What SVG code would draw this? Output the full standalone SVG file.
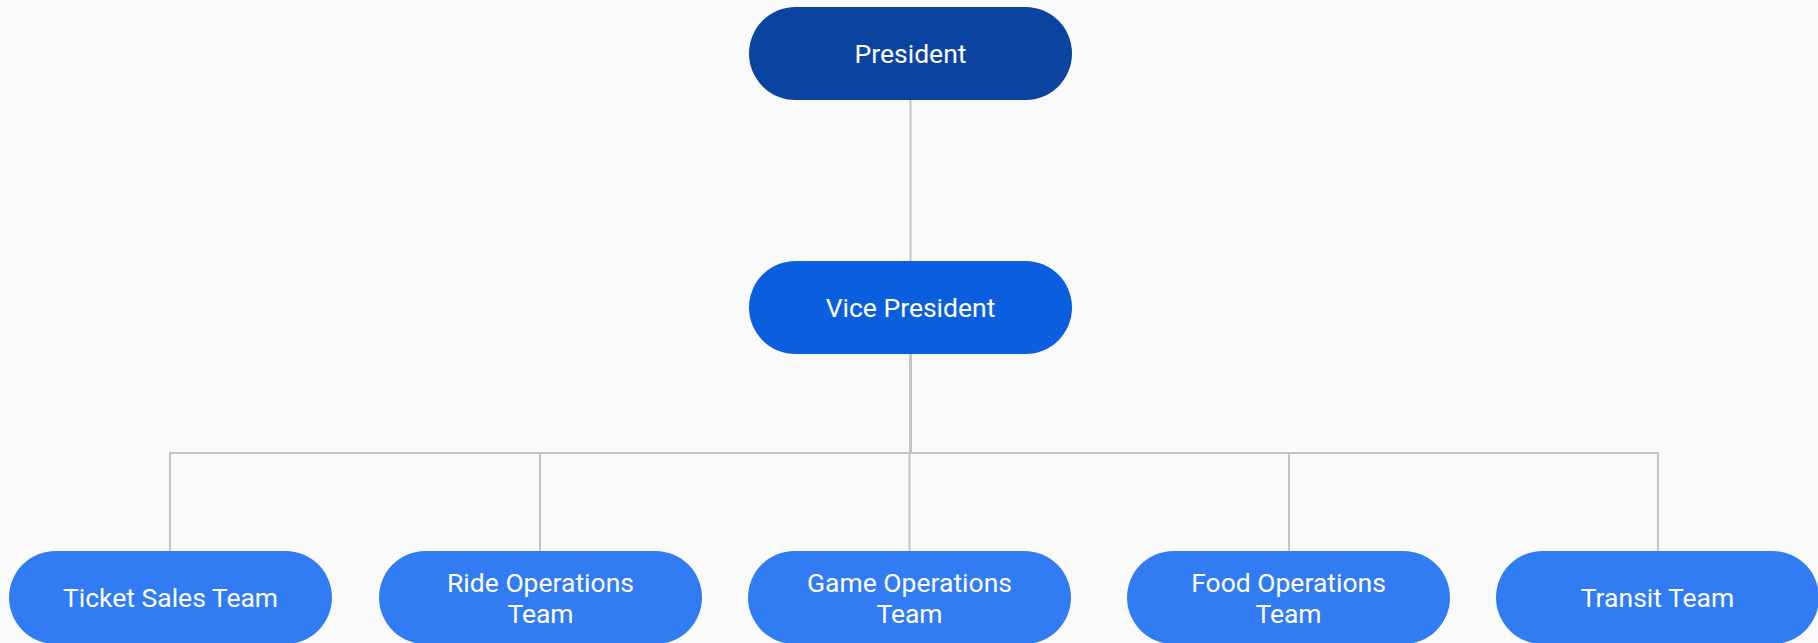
<svg xmlns="http://www.w3.org/2000/svg" width="1818" height="643" viewBox="0 0 1818 643">
<style>
.lbl{font-family:Roboto,"Liberation Sans",sans-serif;font-size:26.5px;font-weight:400;fill:#ffffff;text-anchor:middle}
.c{stroke:#c4c4c4;stroke-width:2;fill:none}
.team{fill:#327CF3}
</style>
<rect width="1818" height="643" fill="#FAFAFA"/>
<g id="connectors">
<line class="c" x1="910.5" y1="99" x2="910.5" y2="261"/>
<line class="c" x1="910.5" y1="354" x2="910.5" y2="453" style="stroke-width:3"/>
<polyline class="c" points="170,551 170,453 1658,453 1658,551"/>
<line class="c" x1="540" y1="453" x2="540" y2="551"/>
<line class="c" x1="909.5" y1="453" x2="909.5" y2="551"/>
<line class="c" x1="1289" y1="453" x2="1289" y2="551"/>
</g>
<g id="president">
<rect x="749" y="7" width="323" height="93" rx="46.5" fill="#0A44A0"/>
<text class="lbl" x="910.5" y="63">President</text>
</g>
<g id="vice-president">
<rect x="749" y="261" width="323" height="93" rx="46.5" fill="#0B5FDF"/>
<text class="lbl" x="910.5" y="317">Vice President</text>
</g>
<g id="ticket-sales">
<rect class="team" x="9" y="551" width="323" height="93" rx="46.5"/>
<text class="lbl" x="170.5" y="607">Ticket Sales Team</text>
</g>
<g id="ride-operations">
<rect class="team" x="379" y="551" width="323" height="93" rx="46.5"/>
<text class="lbl" x="540.5" y="592">Ride Operations</text>
<text class="lbl" x="540.5" y="623">Team</text>
</g>
<g id="game-operations">
<rect class="team" x="748" y="551" width="323" height="93" rx="46.5"/>
<text class="lbl" x="909.5" y="592">Game Operations</text>
<text class="lbl" x="909.5" y="623">Team</text>
</g>
<g id="food-operations">
<rect class="team" x="1127" y="551" width="323" height="93" rx="46.5"/>
<text class="lbl" x="1288.5" y="592">Food Operations</text>
<text class="lbl" x="1288.5" y="623">Team</text>
</g>
<g id="transit">
<rect class="team" x="1496" y="551" width="323" height="93" rx="46.5"/>
<text class="lbl" x="1657.5" y="607">Transit Team</text>
</g>
</svg>
